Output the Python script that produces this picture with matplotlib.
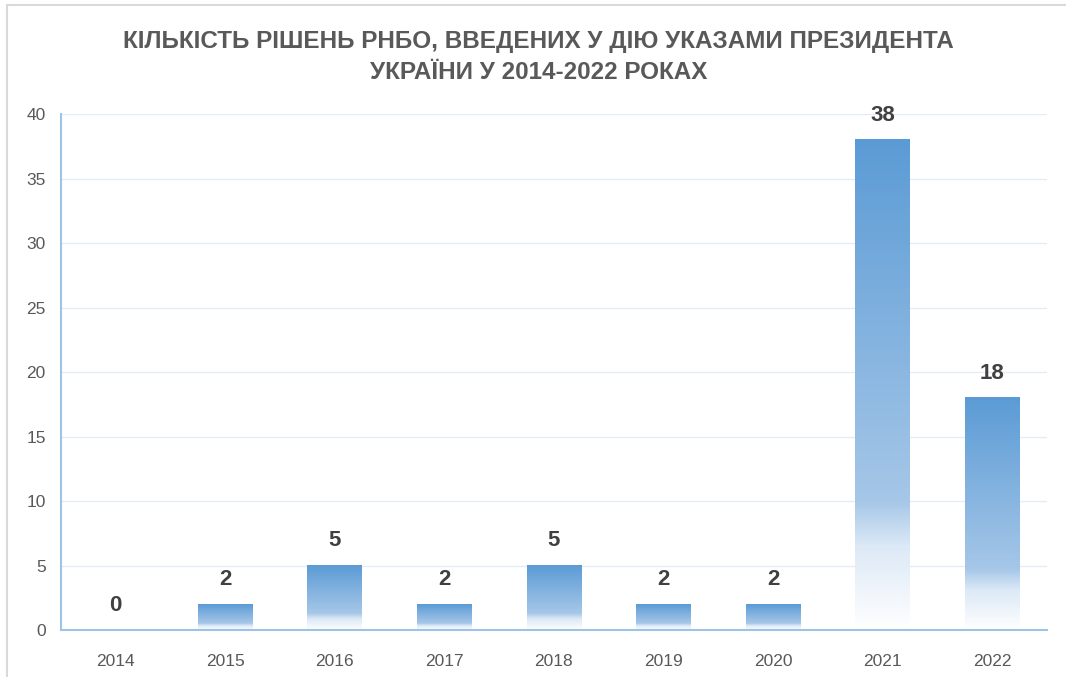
import numpy as np
import matplotlib.pyplot as plt
from matplotlib.colors import LinearSegmentedColormap
from matplotlib.lines import Line2D

years = ["2014", "2015", "2016", "2017", "2018", "2019", "2020", "2021", "2022"]
counts = [0, 2, 5, 2, 5, 2, 2, 38, 18]
yticks = [0, 5, 10, 15, 20, 25, 30, 35, 40]
title = "КІЛЬКІСТЬ РІШЕНЬ РНБО, ВВЕДЕНИХ У ДІЮ УКАЗАМИ ПРЕЗИДЕНТА\nУКРАЇНИ У 2014-2022 РОКАХ"

plt.rcParams['font.family'] = ['Liberation Sans', 'DejaVu Sans']

fig = plt.figure(figsize=(10.66, 6.77), dpi=100)
ax = fig.add_axes([0.0572, 0.0694, 0.9248, 0.7622])

# gradient: blue at top of each bar -> white at bottom
cmap = LinearSegmentedColormap.from_list(
    "bargrad",
    [(0.0, "#ffffff"), (0.17, "#dce9f6"), (0.26, "#a6c7e8"), (1.0, "#5b9bd5")])
grad = np.linspace(0, 1, 256).reshape(-1, 1)

x = np.arange(len(years))
bars = ax.bar(x, counts, width=0.5, color="none", edgecolor="none")
for b, v in zip(bars, counts):
    if v <= 0:
        continue
    x0 = b.get_x()
    ax.imshow(grad, cmap=cmap, origin="lower", aspect="auto",
              extent=[x0, x0 + b.get_width(), 0, v], zorder=2)
for xi, v in zip(x, counts):
    ax.text(xi, v + 1.1, str(v), ha="center", va="bottom",
            fontsize=16, fontweight="bold", color="#404040", zorder=3)

ax.set_xlim(-0.5, len(years) - 0.5)
ax.set_ylim(0, 40)
ax.set_xticks(x)
ax.set_xticklabels(years)
ax.set_yticks(yticks)
ax.tick_params(length=0, labelsize=12.5, colors="#595959")
ax.tick_params(axis="x", pad=17)
ax.tick_params(axis="y", pad=11)
ax.grid(axis="y", color="#e4edf7", linewidth=1)
ax.set_axisbelow(True)
for s in ["top", "right"]:
    ax.spines[s].set_visible(False)
for s in ["left", "bottom"]:
    ax.spines[s].set_color("#9dc3e6")
    ax.spines[s].set_linewidth(1.5)

fig.text(0.505, 0.916, title, ha="center", va="center", fontsize=17.5,
         fontweight="bold", color="#595959", linespacing=1.45)

# chart area border (top and left)
fig.add_artist(Line2D([7 / 1066, 1], [1 - 5 / 677, 1 - 5 / 677], color="#d9d9d9", lw=1.5))
fig.add_artist(Line2D([7 / 1066, 7 / 1066], [0, 1 - 5 / 677], color="#d9d9d9", lw=1.5))

fig.savefig("out.png", dpi=100)
